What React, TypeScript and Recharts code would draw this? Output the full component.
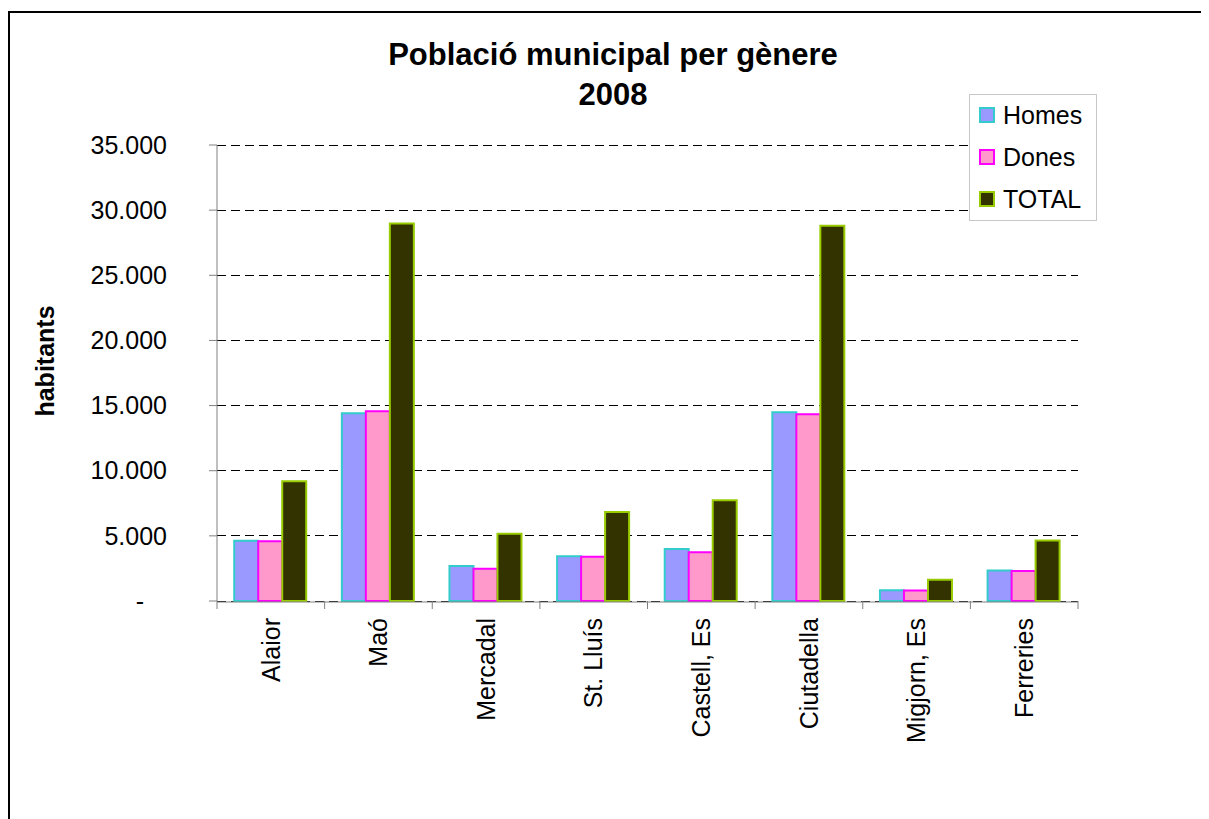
import { Bar, BarChart, CartesianGrid, Legend, XAxis, YAxis } from "recharts";

const municipis = ["Alaior", "Maó", "Mercadal", "St. Lluís", "Castell, Es", "Ciutadella", "Migjorn, Es", "Ferreries"];
const homes = [4620, 14420, 2680, 3440, 4000, 14480, 830, 2340];
const dones = [4580, 14560, 2480, 3400, 3740, 14330, 800, 2300];
const total = [9200, 28980, 5160, 6840, 7740, 28810, 1630, 4640];
const yTicks = [0, 5000, 10000, 15000, 20000, 25000, 30000, 35000];
const edgeTicks = [0, 1, 2, 3, 4, 5, 6, 7, 8];

const series = [
  { key: "homes", name: "Homes", fill: "#9999FF", stroke: "#33CCCC" },
  { key: "dones", name: "Dones", fill: "#FF99CC", stroke: "#FF00FF" },
  { key: "total", name: "TOTAL", fill: "#333300", stroke: "#99CC00" },
];

const data = municipis.map((m, i) => ({ name: m, idx: i, homes: homes[i], dones: dones[i], total: total[i] }));

const FONT = "'Liberation Sans', Arial, sans-serif";
const fmt = (v: number) => (v === 0 ? "-" : v.toLocaleString("de-DE"));

function YTick({ x, y, payload }: any) {
  const v = payload.value;
  return (
    <text x={x} y={y} dx={v === 0 ? -23 : 0} dy="0.35em" textAnchor="end" fontSize={25} fill="#000" fontFamily={FONT}>
      {fmt(v)}
    </text>
  );
}

function XTick({ x, y, payload }: any) {
  return (
    <text
      x={x} y={y} dy="0.35em"
      transform={`rotate(-90, ${x}, ${y})`}
      textAnchor="end" fontSize={25} fill="#000" fontFamily={FONT}
    >
      {payload.value}
    </text>
  );
}

// edge axis only needs its tick lines
const NoLabel = () => <g />;

function LegendBox() {
  return (
    <div style={{ position: "relative", width: 126, height: 125, border: "1px solid #c8c8c8", background: "#fff", fontFamily: FONT, fontSize: 25 }}>
      {series.map((s, i) => (
        <div key={s.key} style={{ position: "absolute", left: 9, top: 5 + i * 42, height: 30, display: "flex", alignItems: "center" }}>
          <span style={{ width: 12, height: 12, background: s.fill, border: `2px solid ${s.stroke}`, display: "inline-block" }} />
          <span style={{ marginLeft: 8, color: "#000" }}>{s.name}</span>
        </div>
      ))}
    </div>
  );
}

export default function App() {
  return (
    <div style={{ position: "relative", width: 1199, height: 806, marginTop: 3, borderTop: "2px solid #000", borderLeft: "2px solid #000", fontFamily: FONT }}>
      <div style={{ position: "absolute", left: 303, top: 22, width: 600, textAlign: "center", fontWeight: "bold", fontSize: 31, lineHeight: "40px", color: "#000" }}>
        Població municipal per gènere
        <br />
        2008
      </div>
      <BarChart
        width={1199} height={806} data={data}
        margin={{ top: 132, right: 131, bottom: 118, left: 10 }}
        barCategoryGap="16%" barGap={0}
      >
        <CartesianGrid horizontal vertical={false} stroke="#000" strokeDasharray="9 5" shapeRendering="crispEdges" xAxisId="cat" />
        <XAxis
          dataKey="idx" type="number" domain={[0, 8]} ticks={edgeTicks} allowDataOverflow
          tick={<NoLabel />} axisLine={false} tickSize={8} height={1} interval={0}
          tickLine={{ stroke: "#808080" }}
        />
        <XAxis
          xAxisId="cat" dataKey="name" interval={0} height={99} tickLine={false}
          axisLine={{ stroke: "#808080" }} tick={<XTick />} tickMargin={10}
        />
        <YAxis
          width={197} domain={[0, 35000]} ticks={yTicks} interval={0}
          axisLine={{ stroke: "#808080" }} tickLine={{ stroke: "#808080" }} tickSize={8} tickMargin={42}
          tick={<YTick />}
          label={{
            content: ({ viewBox }: any) => (
              <text
                x={viewBox.x + 25} y={viewBox.y + viewBox.height / 2 - 12}
                transform={`rotate(-90, ${viewBox.x + 25}, ${viewBox.y + viewBox.height / 2 - 12})`}
                textAnchor="middle" dy="0.35em" fontSize={25} fontWeight="bold" fontFamily={FONT} fill="#000"
              >
                habitants
              </text>
            ),
          }}
        />
        <Legend
          layout="vertical" align="center" verticalAlign="middle"
          content={<LegendBox />}
          wrapperStyle={{ position: "absolute", left: 959, top: 81, width: 128, height: 127 }}
        />
        {series.map(s => (
          <Bar key={s.key} xAxisId="cat" dataKey={s.key} name={s.name} fill={s.fill} stroke={s.stroke} strokeWidth={2} isAnimationActive={false} />
        ))}
      </BarChart>
    </div>
  );
}
